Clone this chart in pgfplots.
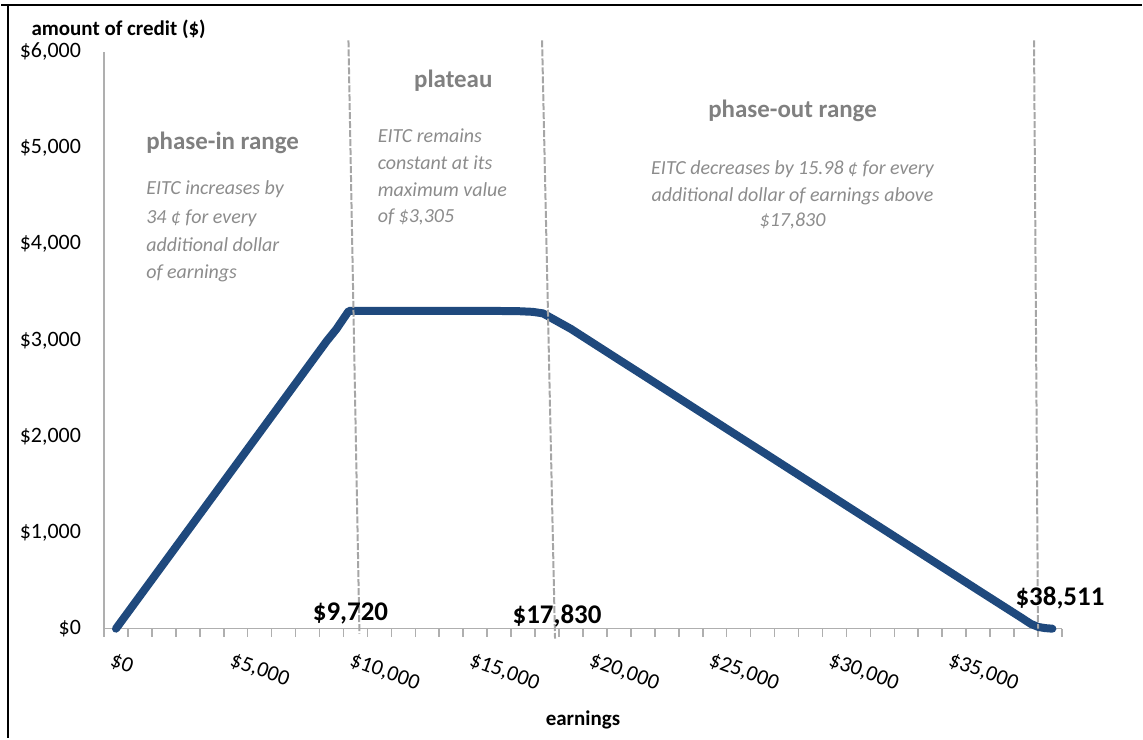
\documentclass[border=0pt]{standalone}
\usepackage{pgfplots}
\pgfplotsset{compat=1.18}
\usepackage{pgfplotstable}
\usepackage{fontspec}
\setmainfont{Carlito}
\definecolor{eitc}{RGB}{31,73,125}
\definecolor{axisgray}{RGB}{175,175,175}
\definecolor{dashgray}{RGB}{166,166,166}
\definecolor{headgray}{RGB}{128,128,128}
\definecolor{annotgray}{RGB}{140,140,140}
\pgfplotstableread{
x y
0 0
1000 340
2000 680
3000 1020
4000 1360
5000 1700
6000 2040
7000 2380
8000 2720
8800 2992
9200 3115
9500 3225
9720 3305
12000 3305
14000 3305
16000 3305
16800 3303
17400 3296
17830 3280
19000 3118
20000 2958
21000 2798
22000 2639
23000 2479
24000 2319
25000 2159
26000 1999
27000 1840
28000 1680
29000 1520
30000 1360
31000 1200
32000 1041
33000 881
34000 721
35000 561
36000 401
37000 242
37800 115
38200 50
38511 18
38800 6
39100 0
}\eitcdata
\newcommand{\tickfont}{\fontsize{11}{13}\selectfont}
\newcommand{\itfont}{\fontsize{10}{12}\selectfont\itshape\color{annotgray}}
\newcommand{\headfont}{\fontsize{12.5}{15}\selectfont\bfseries\color{headgray}}
\newcommand{\valfont}{\fontsize{13.5}{16}\selectfont\bfseries}
\begin{document}
\begin{tikzpicture}
\path (-51.5pt,-55pt) rectangle (520pt,315pt);
\begin{axis}[
  at={(0pt,0pt)}, anchor=south west,
  scale only axis, width=480pt, height=289pt,
  xmin=-500, xmax=39500, ymin=0, ymax=6000,
  axis lines=left,
  axis line style={draw=axisgray, line width=0.8pt, -},
  clip=false,
  scaled x ticks=false, scaled y ticks=false,
  xtick={0,5000,10000,15000,20000,25000,30000,35000},
  xticklabels={{\$0},{\$5,000},{\$10,000},{\$15,000},{\$20,000},{\$25,000},{\$30,000},{\$35,000}},
  minor xtick={-500,500,...,39500},
  major tick length=0pt, minor tick length=4pt,
  tick align=outside,
  minor tick style={draw=axisgray, line width=0.8pt},
  ytick={0,1000,2000,3000,4000,5000,6000},
  yticklabels={{\$0},{\$1,000},{\$2,000},{\$3,000},{\$4,000},{\$5,000},{\$6,000}},
  ytick style={draw=none},
  xticklabel style={rotate=-20, anchor=north west, font=\tickfont, inner sep=0pt, yshift=-11pt, xshift=3pt},
  yticklabel style={font=\tickfont, xshift=-8pt},
]
\addplot[eitc, line width=4pt, line join=round, line cap=round] table[x=x,y=y]{\eitcdata};
\draw[dashgray, line width=1pt, dash pattern=on 3.5pt off 1pt] (axis cs:9708,6120) -- (axis cs:10167,-52);
\draw[dashgray, line width=1pt, dash pattern=on 3.5pt off 1pt] (axis cs:17792,6120) -- (axis cs:18333,-103);
\draw[dashgray, line width=1pt, dash pattern=on 3.5pt off 1pt] (axis cs:38333,6120) -- (axis cs:38500,0);
\end{axis}
% frame
\draw[black, line width=1.2pt] (-51.5pt,312.5pt) -- (520pt,312.5pt);
\draw[black, line width=1.2pt] (-48pt,312.5pt) -- (-48pt,-55pt);
% axis titles
\node[anchor=base west, inner sep=0pt, font=\fontsize{10.5}{12}\selectfont\bfseries] at (-36.5pt,297pt) {amount of credit (\$)};
\node[anchor=base, inner sep=0pt, font=\fontsize{10.5}{12}\selectfont\bfseries] at (240pt,-48.5pt) {earnings};
% phase-in
\node[anchor=base west, inner sep=0pt, font=\headfont] at (21pt,240pt) {phase-in range};
\node[anchor=base west, inner sep=0pt, font=\itfont] at (21pt,217.5pt) {EITC increases by};
\node[anchor=base west, inner sep=0pt, font=\itfont] at (21pt,203pt) {34 ¢ for every};
\node[anchor=base west, inner sep=0pt, font=\itfont] at (21pt,189pt) {additional dollar};
\node[anchor=base west, inner sep=0pt, font=\itfont] at (21pt,175.5pt) {of earnings};
% plateau
\node[anchor=base, inner sep=0pt, font=\headfont] at (175pt,271pt) {plateau};
\node[anchor=base west, inner sep=0pt, font=\itfont] at (137pt,243.5pt) {EITC remains};
\node[anchor=base west, inner sep=0pt, font=\itfont] at (137pt,230pt) {constant at its};
\node[anchor=base west, inner sep=0pt, font=\itfont] at (137pt,216.5pt) {maximum value};
\node[anchor=base west, inner sep=0pt, font=\itfont] at (137pt,203.5pt) {of \$3,305};
% phase-out
\node[anchor=base, inner sep=0pt, font=\headfont] at (345pt,256pt) {phase-out range};
\node[anchor=base, inner sep=0pt, font=\itfont] at (345pt,227.5pt) {EITC decreases by 15.98 ¢ for every};
\node[anchor=base, inner sep=0pt, font=\itfont] at (345pt,214pt) {additional dollar of earnings above};
\node[anchor=base, inner sep=0pt, font=\itfont] at (345pt,201.5pt) {\$17,830};
% values
\node[anchor=base, inner sep=0pt, font=\valfont] at (123.5pt,4pt) {\$9,720};
\node[anchor=base, inner sep=0pt, font=\valfont] at (227pt,2.5pt) {\$17,830};
\node[anchor=base, inner sep=0pt, font=\valfont] at (479pt,11.5pt) {\$38,511};
\end{tikzpicture}
\end{document}
